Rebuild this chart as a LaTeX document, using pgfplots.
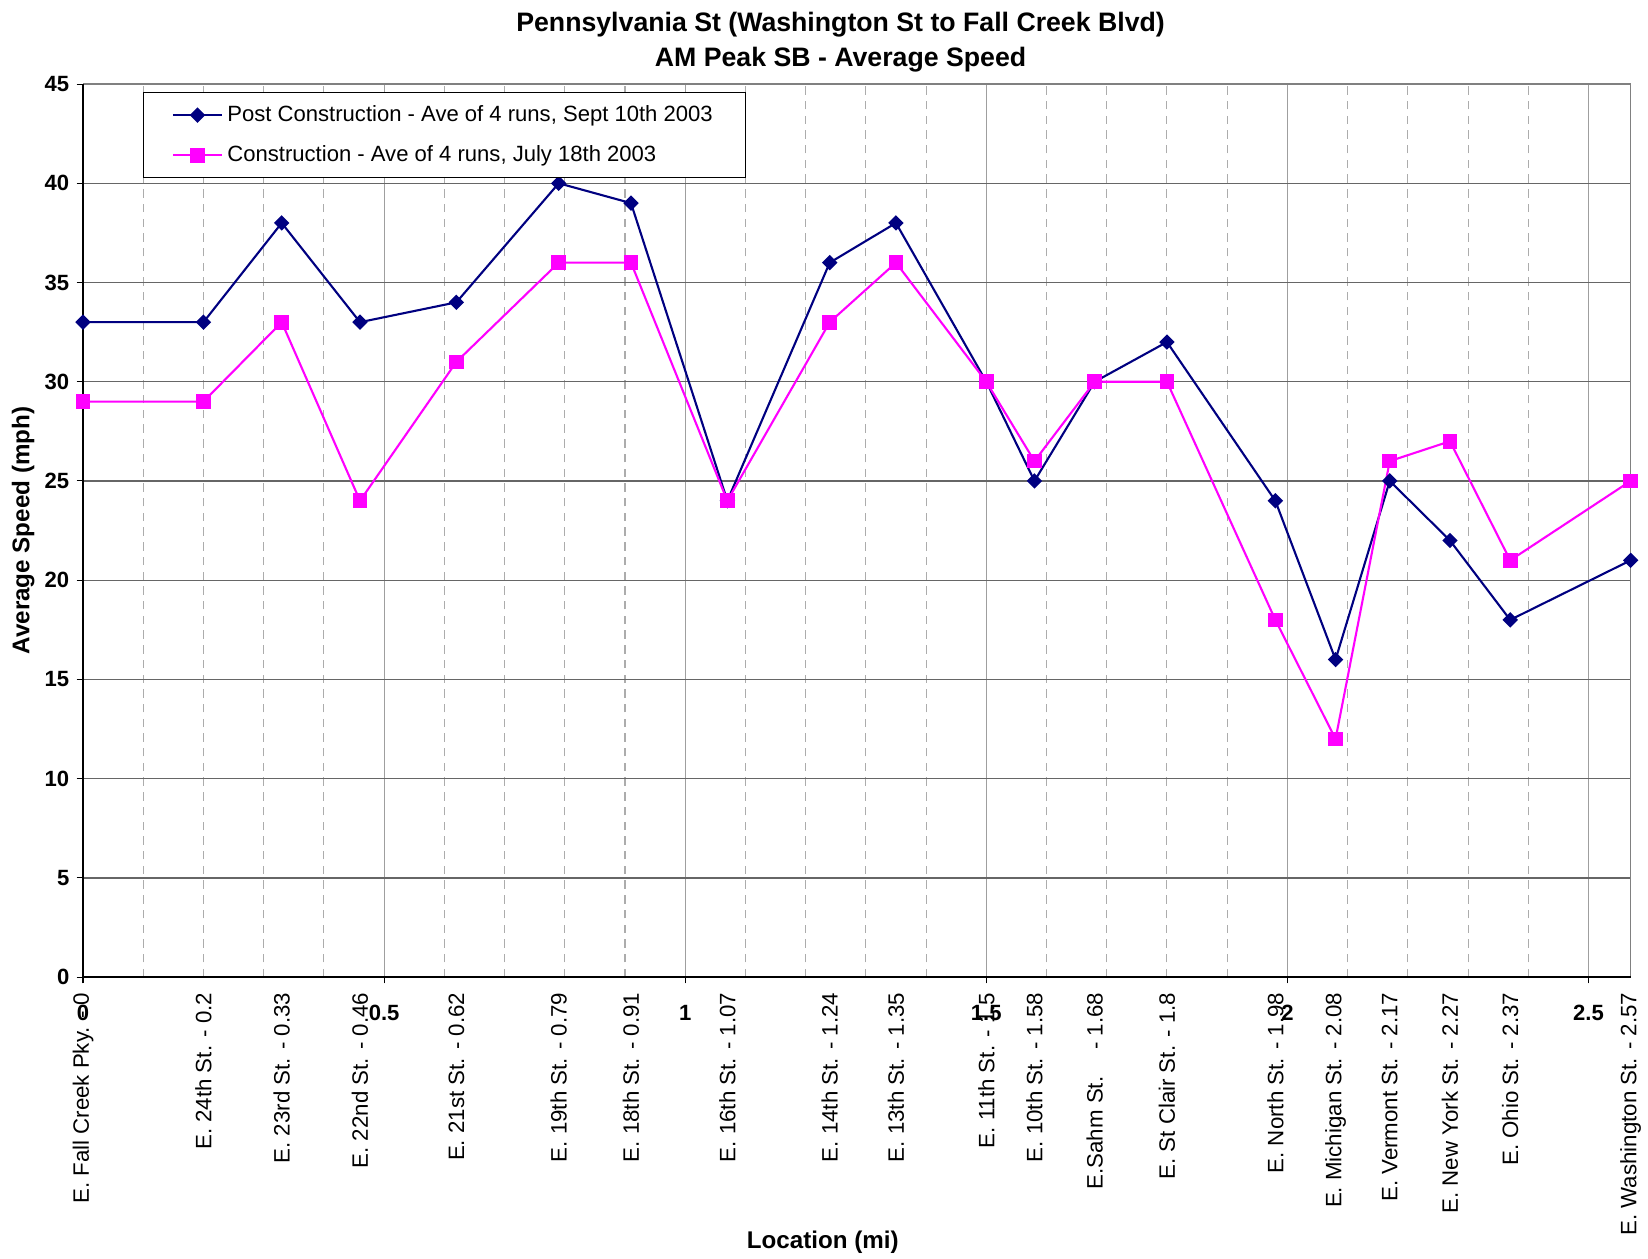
\documentclass[border=0pt]{standalone}
\usepackage{pgfplots}
\pgfplotsset{compat=1.18}
\usepackage{fontspec}
\setmainfont{Liberation Sans}

\definecolor{postblue}{RGB}{0,0,128}
\definecolor{conpink}{RGB}{255,0,255}

\pgfplotstableread{
loc post con
0    33 29
0.2  33 29
0.33 38 33
0.46 33 24
0.62 34 31
0.79 40 36
0.91 39 36
1.07 24 24
1.24 36 33
1.35 38 36
1.5  30 30
1.58 25 26
1.68 30 30
1.8  32 30
1.98 24 18
2.08 16 12
2.17 25 26
2.27 22 27
2.37 18 21
2.57 21 25
}\speeds

\begin{document}
\begin{tikzpicture}
% page frame, same proportions as the reference
\path (-39.5pt,-134pt) rectangle (744.5pt,465pt);
\begin{axis}[
    scale only axis,
    width=736.5pt, height=425pt,
    clip=false,
    xmin=0, xmax=2.57, ymin=0, ymax=45,
    xtick={0,0.5,1,1.5,2,2.5},
    xticklabels={0,0.5,1,1.5,2,2.5},
    minor xtick={0.1,0.2,0.3,0.4,0.6,0.7,0.8,0.9,1.1,1.2,1.3,1.4,1.6,1.7,1.8,1.9,2.1,2.2,2.3,2.4},
    ytick={0,5,...,45},
    tick pos=left,
    tick align=outside,
    major tick length=3pt, minor tick length=0pt,
    tick style={black, line width=0.5pt},
    xmajorgrids, xminorgrids, ymajorgrids,
    major x grid style={gray!75, line width=0.5pt},
    minor x grid style={gray!65, line width=0.5pt, dash pattern=on 4pt off 3pt},
    major y grid style={black!60, line width=0.6pt},
    axis line style={draw=none},
    /pgf/number format/assume math mode=true,
    ticklabel style={font=\fontsize{10.5}{12}\selectfont\bfseries},
    xticklabel style={yshift=-7pt},
    extra x ticks={0,0.2,0.33,0.46,0.62,0.79,0.91,1.07,1.24,1.35,1.5,1.58,1.68,1.8,1.98,2.08,2.17,2.27,2.37,2.57},
    extra x tick labels={E. Fall Creek Pky. - 0,E. 24th St. - 0.2,E. 23rd St. - 0.33,E. 22nd St. - 0.46,E. 21st St. - 0.62,E. 19th St. - 0.79,E. 18th St. - 0.91,E. 16th St. - 1.07,E. 14th St. - 1.24,E. 13th St. - 1.35,E. 11th St. - 1.5,E. 10th St. - 1.58,E.Sahm St. \ \ \ - 1.68,E. St Clair St. - 1.8,E. North St. - 1.98,E. Michigan St. - 2.08,E. Vermont St. - 2.17,E. New York St. - 2.27,E. Ohio St. - 2.37,E. Washington St. - 2.57},
    extra x tick style={grid=none, major tick length=0pt,
        xticklabel style={yshift=3pt, rotate=90, anchor=east,
            font=\fontsize{10.6}{12}\selectfont}},
    legend style={at={(rel axis cs:0.0387,0.9906)}, anchor=north west,
        draw=black, line width=0.5pt, fill=white,
        font=\fontsize{10.5}{12}\selectfont,
        inner xsep=13.5pt, inner ysep=4pt, row sep=6pt,
        cells={anchor=west}},
    legend image code/.code={\draw[mark repeat=2,mark phase=2,#1]
        plot coordinates {(0pt,0pt) (11.75pt,0pt) (23.5pt,0pt)};},
]
\addplot[postblue, line width=1pt, mark=square*, mark size=2.1pt,
    mark options={rotate=45, solid, fill=postblue}] table[x=loc, y=post] {\speeds};
\addlegendentry{Post Construction - Ave of 4 runs, Sept 10th 2003}
\addplot[conpink, line width=1pt, mark=square*, mark size=3pt,
    mark options={solid, fill=conpink}] table[x=loc, y=con] {\speeds};
\addlegendentry{Construction - Ave of 4 runs, July 18th 2003}

\draw[gray, line width=0.6pt] (rel axis cs:0,1) -- (rel axis cs:1,1) -- (rel axis cs:1,0);
\draw[black, line width=0.6pt] (rel axis cs:0,1) -- (rel axis cs:0,0) -- (rel axis cs:1,0);

\node[font=\fontsize{12.7}{17}\selectfont\bfseries, align=center, anchor=south, yshift=2pt]
    at (rel axis cs:0.4895,1)
    {Pennsylvania St (Washington St to Fall Creek Blvd)\\AM Peak SB - Average Speed};
\node[font=\fontsize{11.5}{14}\selectfont\bfseries, inner sep=0pt, yshift=-126pt]
    at (rel axis cs:0.478,0) {Location (mi)};
\node[font=\fontsize{11.5}{14}\selectfont\bfseries, inner sep=0pt, xshift=-28.5pt, rotate=90]
    at (rel axis cs:0,0.5) {Average Speed (mph)};
\end{axis}
\end{tikzpicture}
\end{document}
